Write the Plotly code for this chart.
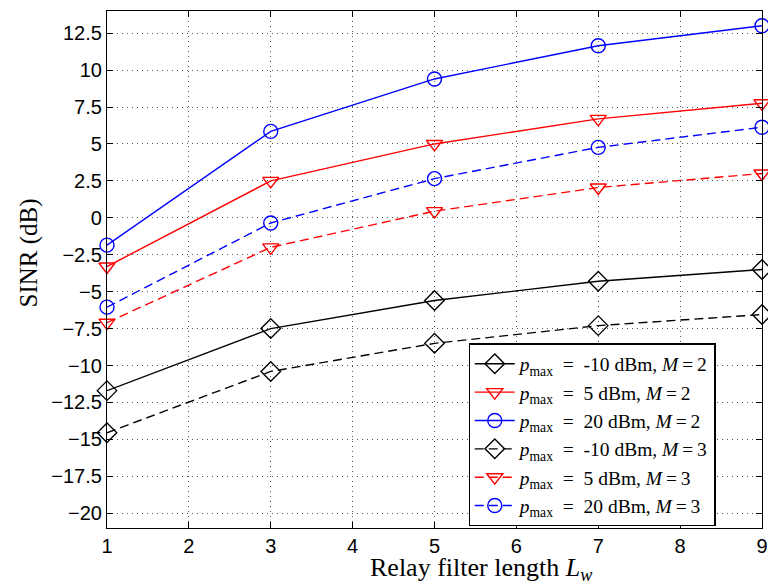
import plotly.graph_objects as go

x_vals = [1, 3, 5, 7, 9]
m2_m10 = [-11.7, -7.5, -5.6, -4.3, -3.5]
m2_p5 = [-3.3, 2.5, 5.0, 6.7, 7.75]
m2_p20 = [-1.85, 5.85, 9.4, 11.65, 13.0]
m3_m10 = [-14.55, -10.4, -8.5, -7.3, -6.55]
m3_p5 = [-7.1, -2.0, 0.45, 2.05, 3.0]
m3_p20 = [-6.05, -0.35, 2.65, 4.77, 6.13]

names = [
    "<i>p</i><sub>max</sub>\u2002=\u2002-10 dBm, <i>M</i>\u2009=\u20092",
    "<i>p</i><sub>max</sub>\u2002=\u20025 dBm, <i>M</i>\u2009=\u20092",
    "<i>p</i><sub>max</sub>\u2002=\u200220 dBm, <i>M</i>\u2009=\u20092",
    "<i>p</i><sub>max</sub>\u2002=\u2002-10 dBm, <i>M</i>\u2009=\u20093",
    "<i>p</i><sub>max</sub>\u2002=\u20025 dBm, <i>M</i>\u2009=\u20093",
    "<i>p</i><sub>max</sub>\u2002=\u200220 dBm, <i>M</i>\u2009=\u20093",
]
series = [m2_m10, m2_p5, m2_p20, m3_m10, m3_p5, m3_p20]
colors = ["black", "red", "blue", "black", "red", "blue"]
symbols = ["diamond-open", "triangle-down-open", "circle-open"] * 2
msizes = [15, 14, 14, 15, 14, 14]
dashes = ["solid"] * 3 + ["9px,5px"] * 3

y_ticks = [-20, -17.5, -15, -12.5, -10, -7.5, -5, -2.5, 0, 2.5, 5, 7.5, 10, 12.5]
x_ticks = [1, 2, 3, 4, 5, 6, 7, 8, 9]

fig = go.Figure()
for nm, ys, c, s, ms, d in zip(names, series, colors, symbols, msizes, dashes):
    fig.add_trace(go.Scatter(
        x=x_vals, y=ys, name=nm, mode="lines+markers",
        line=dict(color=c, width=1.4, dash=d),
        marker=dict(symbol=s, size=ms, color=c, line=dict(width=1.4, color=c)),
        cliponaxis=False,
    ))

axis_common = dict(
    showline=True, linecolor="black", linewidth=1.2, mirror="ticks",
    ticks="inside", ticklen=6, tickcolor="black", tickwidth=1,
    showgrid=True, gridcolor="#555555", gridwidth=1, griddash="1px,4px",
    zeroline=False,
    tickfont=dict(family="Liberation Sans, Arial, sans-serif", size=20, color="black"),
)

fig.update_layout(
    width=768, height=584,
    margin=dict(l=107, r=6, t=11, b=56, autoexpand=False),
    paper_bgcolor="white", plot_bgcolor="white",
    showlegend=True,
    legend=dict(
        x=0.552, y=0.357, xanchor="left", yanchor="top",
        bgcolor="white", bordercolor="black", borderwidth=1.2,
        font=dict(family="Liberation Serif, Times New Roman, serif", size=19.5, color="black"),
        itemwidth=40, tracegroupgap=0,
    ),
    xaxis=dict(range=[1, 9], tickvals=x_ticks, **axis_common),
    yaxis=dict(range=[-21, 14], tickvals=y_ticks, **axis_common),
    annotations=[
        dict(text="SINR (dB)", x=-0.119, y=0.531, xref="paper", yref="paper",
             textangle=-90, showarrow=False, xanchor="center", yanchor="middle",
             font=dict(family="Liberation Serif, Times New Roman, serif", size=25, color="black")),
        dict(text="Relay filter length <i>L</i><sub><i>w</i></sub>", x=0.571, y=-0.079,
             xref="paper", yref="paper", showarrow=False, xanchor="center", yanchor="middle",
             font=dict(family="Liberation Serif, Times New Roman, serif", size=26, color="black")),
    ],
)

fig.write_html("out.html", config={"displayModeBar": False},
               post_script="document.body.style.margin='0';document.body.style.overflow='hidden';")
